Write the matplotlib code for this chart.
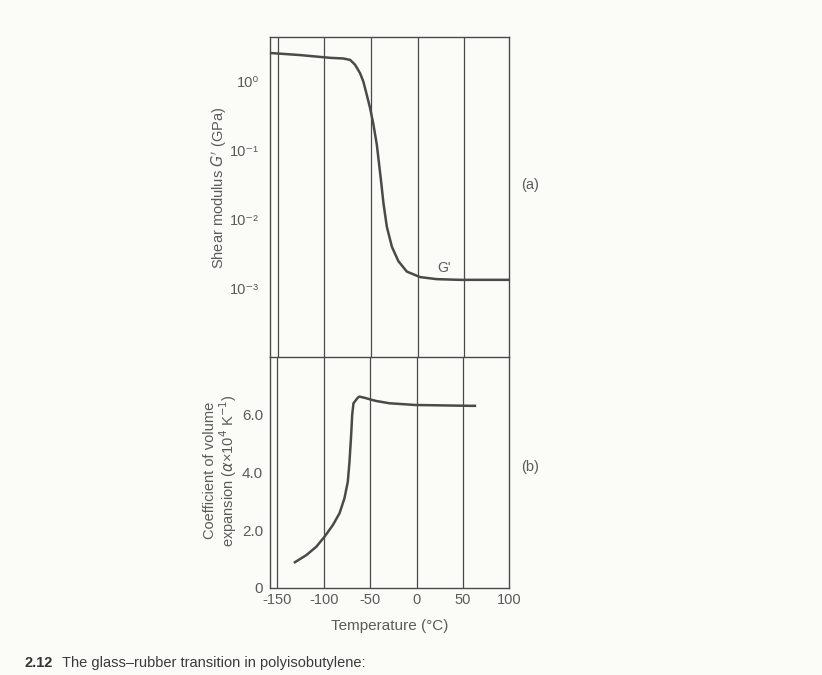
import numpy as np
import matplotlib
matplotlib.use("Agg")
import matplotlib.pyplot as plt

# shear modulus G' (GPa) vs temperature (as log10 values)
temp_g = [-158, -126, -94, -79.5, -72.3, -67, -61.6, -58.1, -54.4, -50.9, -47.3, -43.7,
          -39.4, -36.6, -33, -27.6, -20.6, -11.6, 2.6, 20.5, 45.5, 98]
log_g = [0.42, 0.39, 0.35, 0.34, 0.32, 0.25, 0.126, 0.004, -0.19, -0.38, -0.62, -0.91,
         -1.41, -1.76, -2.10, -2.39, -2.60, -2.75, -2.83, -2.86, -2.87, -2.87]
g_mod = [10 ** v for v in log_g]

# coefficient of volume expansion (x10^4 K^-1)
temp_a = [-131.2, -118.7, -108, -99.1, -90.2, -83, -77.7, -74.1, -72.3, -70.5, -69.4, -68,
          -63.4, -61.6, -56.2, -47.3, -43.7, -29.4, -1.4, 59.3, 63]
alpha = [0.89, 1.14, 1.43, 1.78, 2.18, 2.59, 3.11, 3.68, 4.37, 5.30, 5.99, 6.40,
         6.59, 6.63, 6.59, 6.51, 6.48, 6.40, 6.34, 6.31, 6.31]

grid_temps = [-150, -100, -50, 0, 50]
x_ticks = [-150, -100, -50, 0, 50, 100]
g_ticks = [1, 1e-1, 1e-2, 1e-3]
g_tick_labels = ["10\u2070", "10\u207b\u00b9", "10\u207b\u00b2", "10\u207b\u00b3"]
a_ticks = [0, 2.0, 4.0, 6.0]
a_tick_labels = ["0", "2.0", "4.0", "6.0"]

ink = "#4a4a4a"
txt = "#5a5a5a"
paper = "#fbfbf8"

plt.rcParams["font.family"] = ["Liberation Sans", "DejaVu Sans"]

fig = plt.figure(figsize=(8.22, 6.75), dpi=100, facecolor=paper)
ax1 = fig.add_axes([0.3285, 0.471, 0.291, 0.474])
ax2 = fig.add_axes([0.3285, 0.129, 0.291, 0.342])

for ax in (ax1, ax2):
    ax.set_facecolor(paper)
    ax.set_xlim(-158, 98)
    for t in grid_temps:
        ax.axvline(t, color=ink, lw=0.9)
    for s in ax.spines.values():
        s.set_color(ink)
        s.set_linewidth(1.0)
    ax.tick_params(length=0, colors=txt, labelsize=10.5)

# (a) shear modulus
ax1.set_yscale("log")
ax1.set_ylim(10 ** -3.99, 10 ** 0.65)
ax1.plot(temp_g, g_mod, color=ink, lw=1.8, solid_joinstyle="round")
ax1.set_yticks(g_ticks)
ax1.set_yticklabels(g_tick_labels)
ax1.minorticks_off()
ax1.tick_params(axis="y", pad=8, labelsize=10.5)
ax1.set_xticks([])
ax1.spines["bottom"].set_visible(False)
ax1.set_ylabel("Shear modulus $G'$ (GPa)", color=txt, fontsize=10.5)
ax1.yaxis.set_label_coords(-0.172, 0.53)
ax1.text(28, 10 ** -2.70, "G'", color=txt, fontsize=10, ha="center", va="center")
ax1.text(1.05, 0.5375, "(a)", transform=ax1.transAxes, color=txt, fontsize=10.5, va="center")

# (b) volume expansion
ax2.set_ylim(0, 8.0)
ax2.plot(temp_a, alpha, color=ink, lw=1.8, solid_joinstyle="round")
ax2.set_yticks(a_ticks)
ax2.set_yticklabels(a_tick_labels)
ax2.tick_params(axis="y", pad=5, labelsize=11)
ax2.set_xticks(x_ticks)
ax2.set_xticklabels([str(t) for t in x_ticks])
ax2.tick_params(axis="x", pad=4, labelsize=10.5)
ax2.set_ylabel("Coefficient of volume\nexpansion ($\\alpha$\u00d710$^4$ K$^{-1}$)",
               color=txt, fontsize=10.5, linespacing=1.0)
ax2.yaxis.set_label_coords(-0.13, 0.51)
ax2.set_xlabel("Temperature (\u00b0C)", color=txt, fontsize=11, labelpad=8)
ax2.text(1.05, 0.524, "(b)", transform=ax2.transAxes, color=txt, fontsize=10.5, va="center")

fig.text(0.030, 0.012, "2.12", color="#333333", fontsize=10.5, fontweight="bold")
fig.text(0.075, 0.012, "The glass\u2013rubber transition in polyisobutylene:", color="#3a3a3a", fontsize=10.5)

fig.savefig("out.png", dpi=100, facecolor=paper)
